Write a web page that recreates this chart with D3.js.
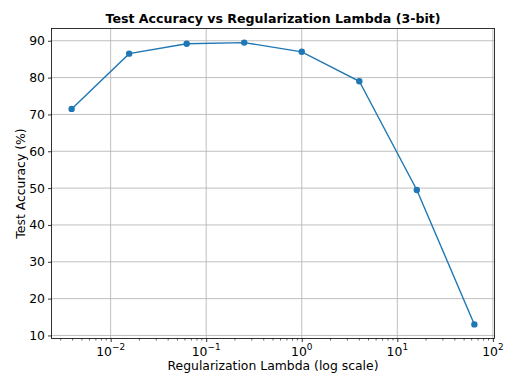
<!DOCTYPE html>
<html><head><meta charset="utf-8">
<script src="https://cdn.jsdelivr.net/npm/d3@7"></script>
<style>body{margin:0;background:#fff}svg{display:block}text{font-family:"DejaVu Sans",sans-serif;fill:#000}</style>
</head><body><svg id="c" width="518" height="389"></svg>
<script>
const lambdas = [1/256, 1/64, 1/16, 1/4, 1, 4, 16, 64];
const accuracy = [71.5, 86.5, 89.2, 89.5, 87.0, 79.0, 49.5, 13.0];
const yTicks = [10, 20, 30, 40, 50, 60, 70, 80, 90];
const xTickExps = [-2, -1, 0, 1, 2];
const title = "Test Accuracy vs Regularization Lambda (3-bit)";
const xLabel = "Regularization Lambda (log scale)";
const yLabel = "Test Accuracy (%)";

const svg = d3.select("#c");
const L = 51.5, R = 494.5, T = 28.5, B = 338.5;
const FS = 12.4;
const lx = d3.extent(lambdas.map(Math.log10));
const mx = (lx[1]-lx[0])*0.05;
const x = d3.scaleLog().domain([Math.pow(10, lx[0]-mx), Math.pow(10, lx[1]+mx)]).range([L, R]);
const ye = d3.extent(accuracy);
const my = (ye[1]-ye[0])*0.05;
const y = d3.scaleLinear().domain([ye[0]-my, ye[1]+my]).range([B, T]);

const g = svg.append("g");
const majors = xTickExps.map(e => Math.pow(10, e)).filter(v => x(v) >= L-0.5 && x(v) <= R+0.5);
g.selectAll(".gx").data(majors).enter().append("line")
  .attr("x1", d => x(d)).attr("x2", d => x(d)).attr("y1", T).attr("y2", B)
  .attr("stroke", "#b0b0b0").attr("stroke-width", 0.8);
g.selectAll(".gy").data(yTicks).enter().append("line")
  .attr("x1", L).attr("x2", R).attr("y1", d => y(d)).attr("y2", d => y(d))
  .attr("stroke", "#b0b0b0").attr("stroke-width", 0.8);

const xAxis = d3.axisBottom(x).tickValues(majors).tickSize(3.5).tickPadding(3).tickFormat("");
const gx = svg.append("g").attr("transform", `translate(0,${B})`).call(xAxis);
gx.select(".domain").remove();
gx.selectAll("line").attr("stroke", "#000").attr("stroke-width", 0.8);
const minors = [];
for (let e = -3; e <= 2; e++) for (let k = 2; k <= 9; k++) { const v = k*Math.pow(10, e); if (x(v) >= L && x(v) <= R) minors.push(v); }
svg.append("g").selectAll("line").data(minors).enter().append("line")
  .attr("x1", d => x(d)).attr("x2", d => x(d)).attr("y1", B).attr("y2", B+2)
  .attr("stroke", "#000").attr("stroke-width", 0.6);
const xl = svg.append("g");
majors.forEach(v => {
  const e = Math.round(Math.log10(v));
  const t = xl.append("text").attr("x", x(v)).attr("y", B + 17).attr("text-anchor", "middle").attr("font-size", FS);
  t.append("tspan").text("10");
  t.append("tspan").attr("dy", -5.5).attr("font-size", FS*0.72).text(e < 0 ? "\u2212" + (-e) : String(e));
});

const yAxis = d3.axisLeft(y).tickValues(yTicks).tickSize(3.5).tickPadding(3).tickFormat(d3.format("d"));
const gy = svg.append("g").attr("transform", `translate(${L},0)`).call(yAxis);
gy.select(".domain").remove();
gy.selectAll("line").attr("stroke", "#000").attr("stroke-width", 0.8);
gy.selectAll("text").attr("font-size", FS).attr("font-family", "DejaVu Sans").attr("fill", "#000");

svg.append("rect").attr("x", L).attr("y", T).attr("width", R-L).attr("height", B-T)
  .attr("fill", "none").attr("stroke", "#000").attr("stroke-width", 0.8);

const data = lambdas.map((l, i) => ({l, a: accuracy[i]}));
svg.append("path").datum(data).attr("fill", "none").attr("stroke", "#1f77b4").attr("stroke-width", 1.4)
  .attr("d", d3.line().x(d => x(d.l)).y(d => y(d.a)));
svg.selectAll(".pt").data(data).enter().append("circle")
  .attr("cx", d => x(d.l)).attr("cy", d => y(d.a)).attr("r", 3.2).attr("fill", "#1f77b4");

svg.append("text").attr("x", (L+R)/2).attr("y", 23).attr("text-anchor", "middle")
  .attr("font-size", 12.6).attr("font-weight", "bold").text(title);
svg.append("text").attr("x", (L+R)/2).attr("y", 370).attr("text-anchor", "middle")
  .attr("font-size", FS).text(xLabel);
svg.append("text").attr("transform", `translate(25,${(T+B)/2}) rotate(-90)`).attr("text-anchor", "middle")
  .attr("font-size", FS).text(yLabel);
</script></body></html>
